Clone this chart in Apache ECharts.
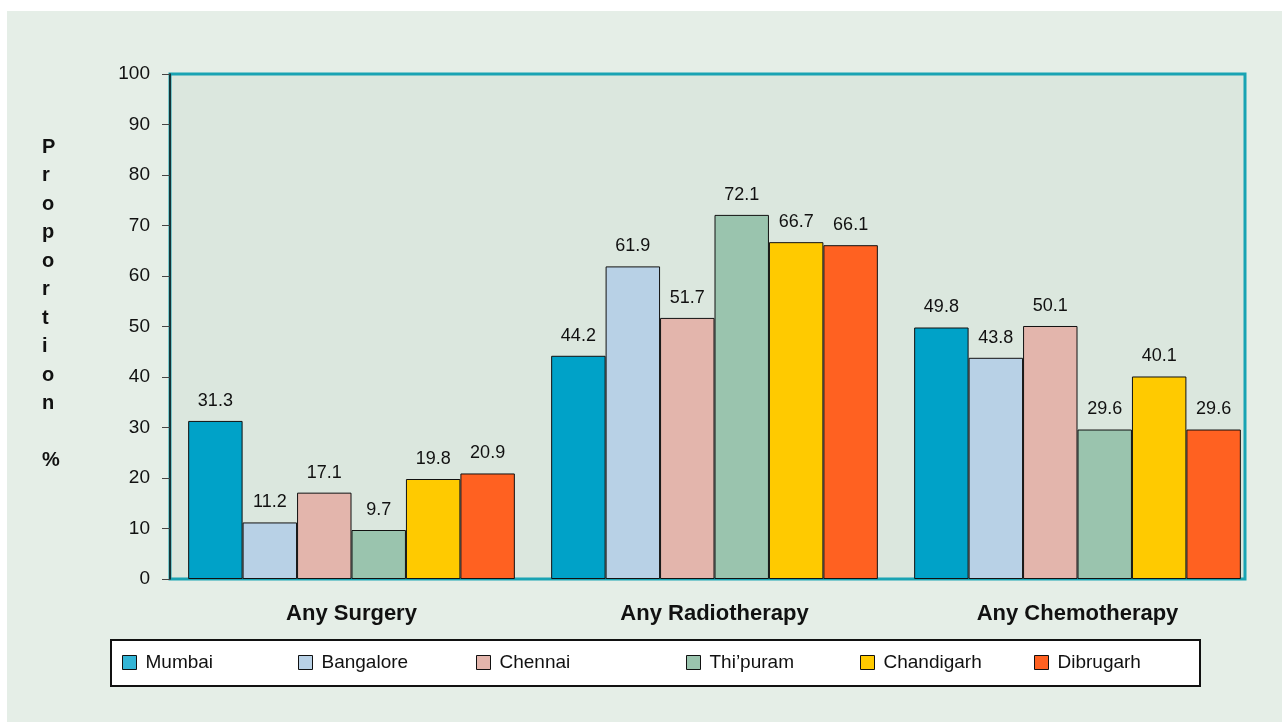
<!DOCTYPE html>
<html>
<head>
<meta charset="utf-8">
<script src="https://cdn.jsdelivr.net/npm/echarts@6/dist/echarts.min.js"></script>
<style>
html,body{margin:0;padding:0;background:#ffffff;}
#chart{width:1282px;height:722px;}
</style>
</head>
<body>
<div id="chart"></div>
<script>
const categories = ['Any Surgery', 'Any Radiotherapy', 'Any Chemotherapy'];
const seriesNames = ['Mumbai', 'Bangalore', 'Chennai', "Thi\u2019puram", 'Chandigarh', 'Dibrugarh'];
const mumbai = [31.3, 44.2, 49.8];
const bangalore = [11.2, 61.9, 43.8];
const chennai = [17.1, 51.7, 50.1];
const thipuram = [9.7, 72.1, 29.6];
const chandigarh = [19.8, 66.7, 40.1];
const dibrugarh = [20.9, 66.1, 29.6];
const yTicks = [0, 10, 20, 30, 40, 50, 60, 70, 80, 90, 100];
const colors = ['#00A2C8', '#B8D1E6', '#E3B5AC', '#9AC4AE', '#FFCA00', '#FF6121'];
const legendIconColors = ['#33B5D6', '#B8D1E6', '#E3B5AC', '#9AC4AE', '#FFCA00', '#FF6121'];
const legendLefts = [122, 298, 476, 686, 860, 1034];

const allData = [mumbai, bangalore, chennai, thipuram, chandigarh, dibrugarh];
const FONT = '"Liberation Sans", Arial, Helvetica, sans-serif';

const chart = echarts.init(document.getElementById('chart'), null, {renderer: 'canvas'});

const series = seriesNames.map((name, i) => ({
  name: name,
  type: 'bar',
  data: allData[i],
  barGap: '0%',
  barCategoryGap: '10%',
  itemStyle: {color: colors[i], borderColor: '#111', borderWidth: 1},
  label: {
    show: true, position: 'top', distance: 11,
    color: '#111', fontSize: 18, fontFamily: FONT,
    formatter: p => p.value.toFixed(1)
  },
  emphasis: {disabled: true},
  animation: false
}));

const legends = seriesNames.map((name, i) => ({
  data: [{name: name, itemStyle: {color: legendIconColors[i], borderColor: '#111', borderWidth: 1}}],
  left: legendLefts[i], top: 653,
  icon: 'rect', itemWidth: 14, itemHeight: 14,
  textStyle: {color: '#111', fontSize: 19, fontFamily: FONT, padding: [0, 0, 0, 4]},
  selectedMode: false, padding: 0
}));

chart.setOption({
  animation: false,
  backgroundColor: '#ffffff',
  graphic: [
    {type: 'rect', z: -10, shape: {x: 7, y: 11, width: 1275, height: 711}, style: {fill: '#E5EEE7'}},
    {type: 'rect', z: -8, shape: {x: 170, y: 74, width: 1075, height: 505}, style: {fill: '#DBE7DE', stroke: '#19A3B3', lineWidth: 3}},
    {type: 'rect', z: -5, shape: {x: 111, y: 640, width: 1089, height: 46}, style: {fill: '#ffffff', stroke: '#111', lineWidth: 2}},
    {type: 'text', left: 42, top: 133, style: {
      text: 'P\nr\no\np\no\nr\nt\ni\no\nn\n\n%', fontSize: 20, fontWeight: 'bold',
      fontFamily: FONT, fill: '#111', lineHeight: 28.5, align: 'center'
    }}
  ],
  grid: {
    left: 170, right: 23, top: 74, bottom: 143, show: false
  },
  legend: legends,
  xAxis: {
    type: 'category', data: categories,
    axisLine: {show: false},
    axisTick: {show: false},
    axisLabel: {color: '#111', fontSize: 22, fontWeight: 'bold', fontFamily: FONT, margin: 24}
  },
  yAxis: {
    type: 'value', min: 0, max: 100, interval: 10,
    axisLine: {show: true, lineStyle: {color: '#111', width: 1.5}},
    axisTick: {show: true, length: 8, lineStyle: {color: '#444'}},
    splitLine: {show: false},
    axisLabel: {color: '#111', fontSize: 19, fontFamily: FONT, margin: 20,
      customValues: yTicks}
  },
  series: series
});
</script>
</body>
</html>
